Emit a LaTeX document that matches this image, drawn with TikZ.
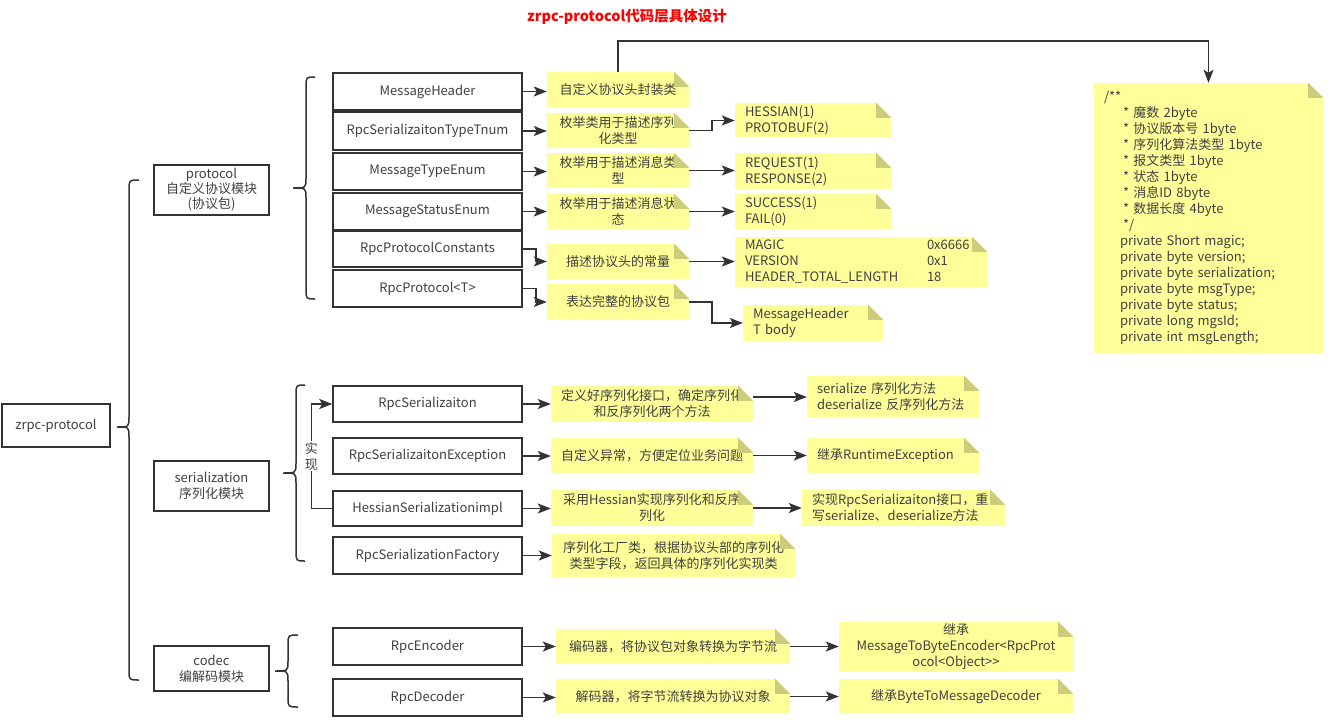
\documentclass[tikz,border=0pt]{standalone}
\usepackage{fontspec}
\setmainfont{Noto Sans CJK SC}
\usetikzlibrary{arrows.meta}
\definecolor{ln}{RGB}{51,51,51}
\definecolor{tx}{RGB}{64,64,64}
\definecolor{ny}{RGB}{255,255,153}
\definecolor{nf}{RGB}{204,204,122}
\newcommand\myfs{\fontsize{13pt}{16pt}\selectfont}
\tikzset{
 box/.style={draw=ln, line width=1.5pt, fill=white, text=tx, font=\myfs, inner sep=0pt, align=center},
 note/.style={fill=ny, text=tx, font=\myfs, inner sep=0pt, align=center},
 lnote/.style={fill=ny, text=tx, font=\myfs, inner ysep=0pt, inner xsep=10pt, align=left},
 arr/.style={draw=ln, line width=1.5pt, -{Stealth[length=13pt,width=10pt,inset=3pt]}},
 brace/.style={draw=ln, line width=1.5pt},
 lbl/.style={fill=white, text=tx, font=\myfs, inner sep=1pt, align=center},
}
\newcommand\dogear[1]{%
 \fill[white] ([xshift=-15pt,yshift=0.5pt]#1.north east) -- ([xshift=0.5pt,yshift=0.5pt]#1.north east) -- ([xshift=0.5pt,yshift=-15pt]#1.north east) -- cycle;
 \fill[nf] ([xshift=-15pt]#1.north east) -- ([xshift=-15pt,yshift=-15pt]#1.north east) -- ([yshift=-15pt]#1.north east) -- cycle;}
\newcommand\mybrace[6]{% xl xm xr yt yb yc
 \draw[brace] (#3,#4) .. controls (#2,#4) .. (#2,#4+10) -- (#2,#6-10) .. controls (#2,#6) .. (#1,#6) .. controls (#2,#6) .. (#2,#6+10) -- (#2,#5-10) .. controls (#2,#5) .. (#3,#5);}
\begin{document}
\begin{tikzpicture}[x=1pt,y=-1pt]
\useasboundingbox (0,0) rectangle (1330,723);
% title
\node[text=red, font=\fontsize{14.5pt}{17pt}\selectfont\bfseries] (title) at (627,17) {zrpc-protocol代码层具体设计};
% level 0/1
\node[box, minimum width=108pt, minimum height=43pt] (root) at (56,425.5) {zrpc-protocol};
\node[box, minimum width=115pt, minimum height=50pt, font=\fontsize{13pt}{15pt}\selectfont] (prot) at (211.5,190) {protocol\\自定义协议模块\\(协议包)};
\node[box, minimum width=115pt, minimum height=50pt] (ser) at (211.5,486) {serialization\\序列化模块};
\node[box, minimum width=115pt, minimum height=45pt] (cod) at (211.5,668.5) {codec\\编解码模块};
\mybrace{117}{129}{139}{180}{680}{427}
\mybrace{293}{306}{315}{77}{299}{188}
\mybrace{283}{296}{305}{385}{561}{473}
\mybrace{275}{288}{298}{635}{707}{671}
% protocol children
\node[box, minimum width=189pt, minimum height=37pt] (mh) at (427.5,91.5) {MessageHeader};
\node[box, minimum width=189pt, minimum height=38pt] (rst) at (427.5,131) {RpcSerializaitonTypeTnum};
\node[box, minimum width=189pt, minimum height=37pt] (mte) at (427.5,171.5) {MessageTypeEnum};
\node[box, minimum width=189pt, minimum height=37pt] (mse) at (427.5,211.5) {MessageStatusEnum};
\node[box, minimum width=189pt, minimum height=36pt] (rpc) at (427.5,249) {RpcProtocolConstants};
\node[box, minimum width=189pt, minimum height=37pt] (rp) at (427.5,288.5) {RpcProtocol<T>};
% protocol notes col1
\node[note, minimum width=142pt, minimum height=35pt] (n1) at (618,89.5) {自定义协议头封装类};
\node[note, minimum width=142pt, minimum height=35pt] (n2) at (618,130.5) {枚举类用于描述序列\\化类型};
\node[note, minimum width=142pt, minimum height=35pt] (n3) at (618,170.5) {枚举用于描述消息类\\型};
\node[note, minimum width=142pt, minimum height=35pt] (n4) at (618,211.5) {枚举用于描述消息状\\态};
\node[note, minimum width=142pt, minimum height=35pt] (n5) at (618,261.5) {描述协议头的常量};
\node[note, minimum width=142pt, minimum height=36pt] (n6) at (618,302) {表达完整的协议包};
% protocol notes col2
\node[lnote, text width=136pt, minimum height=35pt] (h1) at (813,120.5) {HESSIAN(1)\\PROTOBUF(2)};
\node[lnote, text width=136pt, minimum height=36pt] (h2) at (813,171) {REQUEST(1)\\RESPONSE(2)};
\node[lnote, text width=136pt, minimum height=35pt] (h3) at (813,211.5) {SUCCESS(1)\\FAIL(0)};
\node[lnote, text width=232pt, minimum height=50pt] (h4) at (861,262) {\makebox[182pt][l]{MAGIC}0x6666\\\makebox[182pt][l]{VERSION}0x1\\\makebox[182pt][l]{HEADER\_TOTAL\_LENGTH}18};
\node[lnote, text width=120pt, minimum height=36pt] (h5) at (813,323) {MessageHeader\\T body};
% big note
\node[lnote, text width=209pt, minimum height=270pt] (big) at (1208.5,218) {/**\\
\hspace*{19pt}* 魔数 2byte\\
\hspace*{19pt}* 协议版本号 1byte\\
\hspace*{19pt}* 序列化算法类型 1byte\\
\hspace*{19pt}* 报文类型 1byte\\
\hspace*{19pt}* 状态 1byte\\
\hspace*{19pt}* 消息ID 8byte\\
\hspace*{19pt}* 数据长度 4byte\\
\hspace*{19pt}*/\\
\hspace*{16pt}private Short magic;\\
\hspace*{16pt}private byte version;\\
\hspace*{16pt}private byte serialization;\\
\hspace*{16pt}private byte msgType;\\
\hspace*{16pt}private byte status;\\
\hspace*{16pt}private long mgsId;\\
\hspace*{16pt}private int msgLength;};
% serialization children
\node[box, minimum width=189pt, minimum height=36pt] (s1) at (427.5,404) {RpcSerializaiton};
\node[box, minimum width=189pt, minimum height=36pt] (s2) at (427.5,456) {RpcSerializaitonException};
\node[box, minimum width=189pt, minimum height=35pt] (s3) at (427.5,508.5) {HessianSerializationimpl};
\node[box, minimum width=189pt, minimum height=37pt] (s4) at (427.5,555.5) {RpcSerializationFactory};
\node[note, minimum width=202pt, minimum height=36pt] (t1) at (652,404) {定义好序列化接口，确定序列化\\和反序列化两个方法};
\node[note, minimum width=202pt, minimum height=35pt] (t2) at (652,455.5) {自定义异常，方便定位业务问题};
\node[note, minimum width=202pt, minimum height=36pt] (t3) at (652,508) {采用Hessian实现序列化和反序\\列化};
\node[note, minimum width=243pt, minimum height=43pt] (t4) at (673.5,555.5) {序列化工厂类，根据协议头部的序列化\\类型字段，返回具体的序列化实现类};
\node[lnote, text width=152pt, minimum height=42pt] (u1) at (893,397) {serialize 序列化方法\\deserialize 反序列化方法};
\node[lnote, text width=152pt, minimum height=35pt] (u2) at (893,455.5) {继承RuntimeException};
\node[lnote, text width=183pt, minimum height=36pt] (u3) at (903.5,508) {实现RpcSerializaiton接口，重\\写serialize、deserialize方法};
% codec children
\node[box, minimum width=189pt, minimum height=37pt] (e1) at (427.5,646.5) {RpcEncoder};
\node[box, minimum width=189pt, minimum height=37pt] (e2) at (427.5,697.5) {RpcDecoder};
\node[note, minimum width=234pt, minimum height=35pt] (f1) at (673,646.5) {编码器，将协议包对象转换为字节流};
\node[note, minimum width=234pt, minimum height=35pt] (f2) at (673,696.5) {解码器，将字节流转换为协议对象};
\node[note, minimum width=234pt, minimum height=50pt] (g1) at (956,647) {继承\\MessageToByteEncoder<RpcProt\\ocol<Object>\kern0pt>};
\node[note, minimum width=234pt, minimum height=35pt] (g2) at (956,696.5) {继承ByteToMessageDecoder};
% dog ears
\foreach \n in {n1,n2,n3,n4,n5,n6,h1,h2,h3,h4,h5,big,t1,t2,t3,t4,u1,u2,u3,f1,f2,g1,g2}{\dogear{\n}}
% connectors
\draw[arr] (mh.east) -- (mh.east -| n1.west);
\draw[arr] (rst.east) -- (rst.east -| n2.west);
\draw[arr] (mte.east) -- (mte.east -| n3.west);
\draw[arr] (mse.east) -- (mse.east -| n4.west);
\draw[arr] (rpc.east) -- ++(13,0) |- (n5.west);
\draw[arr] (rp.east) -- ++(13,0) |- (n6.west);
\draw[arr] (n2.east) -- ++(23,0) |- (h1.west);
\draw[arr] (n3.east) -- (n3.east -| h2.west);
\draw[arr] (n4.east) -- (n4.east -| h3.west);
\draw[arr] (n5.east) -- (n5.east -| h4.west);
\draw[arr] (n6.east) -- ++(23,0) |- (h5.west);
\draw[arr] (n1.north) -- ++(0,-31) -| (big.north);
\draw[arr] (s1.east) -- (s1.east -| t1.west);
\draw[arr] (s2.east) -- (s2.east -| t2.west);
\draw[arr] (s3.east) -- (s3.east -| t3.west);
\draw[arr] (s4.east) -- (s4.east -| t4.west);
\draw[arr] (u1.west -| t1.east) -- (u1.west);
\draw[arr] (t2.east) -- (t2.east -| u2.west);
\draw[arr] (t3.east) -- (t3.east -| u3.west);
\draw[arr] (s3.west) -- ++(-21,0) |- node[lbl, pos=0.25] (impl) {实\\现} (s1.west);
\draw[arr] (e1.east) -- (e1.east -| f1.west);
\draw[arr] (e2.east) -- (e2.east -| f2.west);
\draw[arr] (f1.east) -- (f1.east -| g1.west);
\draw[arr] (f2.east) -- (f2.east -| g2.west);
\end{tikzpicture}
\end{document}
